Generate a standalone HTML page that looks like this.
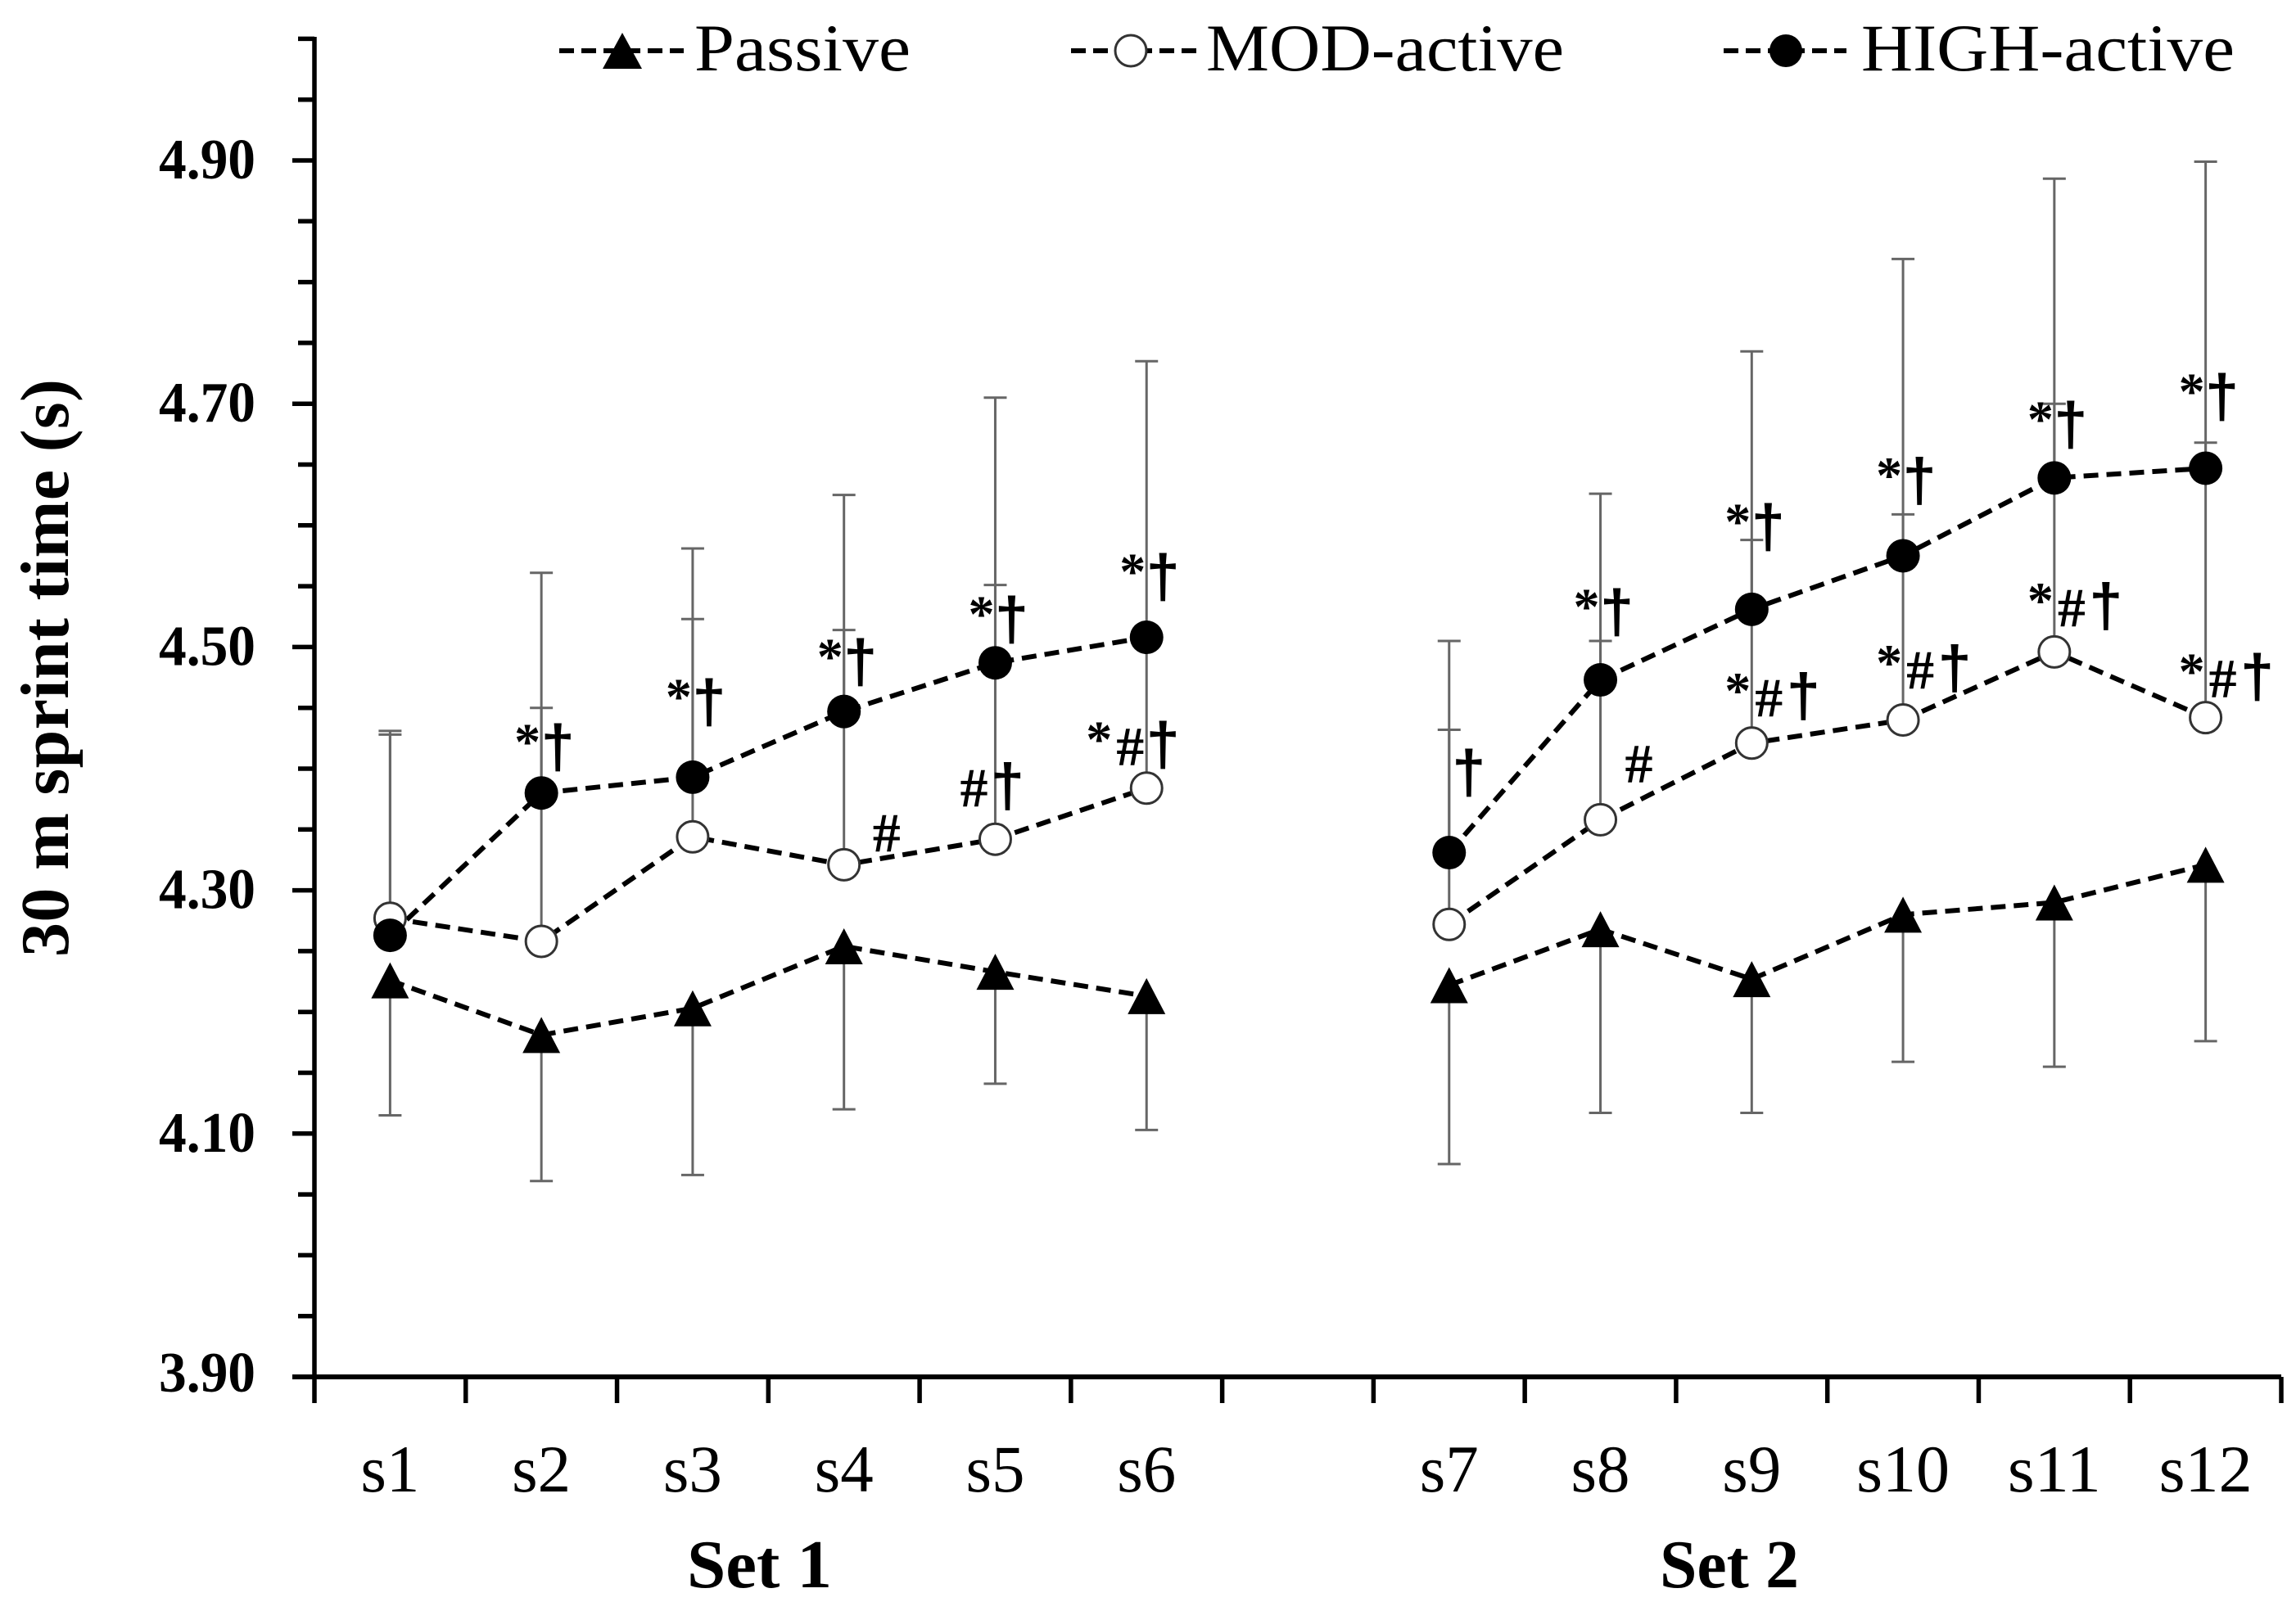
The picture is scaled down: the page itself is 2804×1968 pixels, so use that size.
<!DOCTYPE html>
<html lang="en">
<head>
<meta charset="utf-8">
<title>30 m sprint time</title>
<style>
html,body{margin:0;padding:0;background:#fff;}
svg{display:block;}
text{fill:#000;font-family:"Liberation Serif",serif;}
</style>
</head>
<body>
<svg id="chart" xmlns="http://www.w3.org/2000/svg" width="2804" height="1968" viewBox="0 0 2804 1968">
  <rect x="0" y="0" width="2804" height="1968" fill="#fff"/>
  <text transform="translate(83,816) rotate(-90)" text-anchor="middle" font-size="84" font-weight="bold" textLength="706" lengthAdjust="spacing">30 m sprint time (s)</text>
  <g id="err"></g>
  <g id="lines"></g>
  <g id="marks"></g>
  <g id="ann"></g>
  <g id="axes"></g>
  <text x="839" y="1939" font-size="84" font-weight="bold" textLength="177" lengthAdjust="spacingAndGlyphs">Set 1</text>
  <text x="2027" y="1939" font-size="84" font-weight="bold" textLength="170" lengthAdjust="spacingAndGlyphs">Set 2</text>
  <g>
    <g>
      <line x1="683" y1="62" x2="835" y2="62" stroke="#000" stroke-width="6" stroke-dasharray="18 9"/>
      <polygon points="760,40 784,84 736,84" fill="#000"/>
      <text x="848" y="86" font-size="82" textLength="264" lengthAdjust="spacingAndGlyphs">Passive</text>
    </g>
    <g>
      <line x1="1308" y1="62" x2="1461" y2="62" stroke="#000" stroke-width="6" stroke-dasharray="18 9"/>
      <circle cx="1381" cy="62" r="19" fill="#fff" stroke="#333" stroke-width="3"/>
      <text x="1473" y="86" font-size="82" textLength="437" lengthAdjust="spacingAndGlyphs">MOD-active</text>
    </g>
    <g>
      <line x1="2105" y1="62" x2="2255" y2="62" stroke="#000" stroke-width="6" stroke-dasharray="18 9"/>
      <circle cx="2181" cy="62" r="20" fill="#000"/>
      <text x="2273" y="86" font-size="82" textLength="456" lengthAdjust="spacingAndGlyphs">HIGH-active</text>
    </g>
  </g>
</svg>
<script>
// Categories ('' is the gap between the two sets)
const categories = ['s1','s2','s3','s4','s5','s6','','s7','s8','s9','s10','s11','s12'];
const yTickLabels = ['3.90','4.10','4.30','4.50','4.70','4.90'];
const yTickValues = [3.9,3.95,4.0,4.05,4.1,4.15,4.2,4.25,4.3,4.35,4.4,4.45,4.5,4.55,4.6,4.65,4.7,4.75,4.8,4.85,4.9,4.95,5.0];

// Series means, seconds (null = gap)
const passiveMeans = [4.226,4.181,4.203,4.254,4.233,4.213,null,4.222,4.268,4.227,4.280,4.290,4.321];
const modMeans     = [4.277,4.258,4.344,4.321,4.342,4.384,null,4.272,4.358,4.421,4.440,4.496,4.442];
const highMeans    = [4.263,4.380,4.393,4.447,4.487,4.508,null,4.331,4.473,4.531,4.575,4.639,4.647];

// Error bar ends, seconds
const passiveLower = [4.115,4.061,4.066,4.120,4.141,4.103,null,4.075,4.117,4.117,4.159,4.155,4.176];
const modUpper     = [4.431,4.450,4.523,4.514,4.551,4.508,null,4.432,4.505,4.588,4.609,4.700,4.668];
const highUpper    = [4.428,4.561,4.581,4.625,4.705,4.735,null,4.505,4.626,4.743,4.819,4.885,4.899];

// Significance annotations and their baseline level, seconds
const highAnnotations = ['','*†','*†','*†','*†','*†','','†','*†','*†','*†','*†','*†'];
const highAnnotationLevels = [null,4.401,4.438,4.471,4.506,4.541,null,4.380,4.512,4.582,4.620,4.666,4.689];
const modAnnotations = ['','','','#','#†','*#†','','','#','*#†','*#†','*#†','*#†'];
const modAnnotationLevels = [null,null,null,4.332,4.369,4.403,null,null,4.389,4.443,4.466,4.517,4.459];

const NS = 'http://www.w3.org/2000/svg';
const PLOT = {left:384, right:2786, bottom:1682, perSecond:1486, yMin:3.9};
function xScale(i){ return PLOT.left + (PLOT.right-PLOT.left)/categories.length*(i+0.5); }
function xEdge(i){ return PLOT.left + (PLOT.right-PLOT.left)/categories.length*i; }
function yScale(v){ return PLOT.bottom - (v-PLOT.yMin)*PLOT.perSecond; }
function mk(tag,attrs,parent){
  const el=document.createElementNS(NS,tag);
  for(const k in attrs) el.setAttribute(k,attrs[k]);
  parent.appendChild(el);
  return el;
}

const axes=document.getElementById('axes');
const errG=document.getElementById('err');
const linesG=document.getElementById('lines');
const marksG=document.getElementById('marks');
const annG=document.getElementById('ann');

// Axis lines
const yAxisLine=mk('line',{x1:PLOT.left,y1:45,x2:PLOT.left,y2:PLOT.bottom+3,stroke:'#000','stroke-width':5.5},axes);


const xAxisLine=mk('line',{x1:357,y1:PLOT.bottom,x2:PLOT.right,y2:PLOT.bottom,stroke:'#000','stroke-width':6},axes);



// Y ticks
yTickValues.forEach(function(v){
  const major=yTickLabels.indexOf(v.toFixed(2))>=0;
  const t=mk('line',{x1:major?357:364,y1:yScale(v),x2:PLOT.left,y2:yScale(v),stroke:'#000','stroke-width':5.5},axes);
  
  
});
yTickLabels.forEach(function(label){
  const v=parseFloat(label);
  const t=mk('text',{x:194,y:yScale(v)+(v===3.9?18:22),'font-size':70,'font-weight':'bold',textLength:118,lengthAdjust:'spacingAndGlyphs'},axes);
  
  
  t.textContent=label;
});

// X ticks and labels
for(let i=0;i<=categories.length;i++){
  const t=mk('line',{x1:xEdge(i),y1:PLOT.bottom,x2:xEdge(i),y2:PLOT.bottom+32,stroke:'#000','stroke-width':5.5},axes);
  
  
}
categories.forEach(function(c,i){
  if(!c) return;
  const t=mk('text',{x:xScale(i),y:1822,'text-anchor':'middle','font-size':82,textLength:c.length>2?114:72,lengthAdjust:'spacingAndGlyphs'},axes);
  
  
  t.textContent=c;
});

// Error bars
function drawErrors(ends,means,name){
  ends.forEach(function(e,i){
    if(e===null) return;
    const x=xScale(i);
    const stem=mk('line',{x1:x,y1:yScale(means[i]),x2:x,y2:yScale(e),stroke:'#666','stroke-width':3},errG);
    
    
    const cap=mk('line',{x1:x-14,y1:yScale(e),x2:x+14,y2:yScale(e),stroke:'#666','stroke-width':3},errG);
    
    
  });
}
drawErrors(passiveLower,passiveMeans,'passive');
drawErrors(modUpper,modMeans,'mod-active');
drawErrors(highUpper,highMeans,'high-active');

// Dashed series lines (one path per set)
function drawLine(means,name){
  let d='',pen=false;
  means.forEach(function(m,i){
    if(m===null){pen=false;return;}
    d+=(pen?'L':'M')+xScale(i).toFixed(1)+' '+yScale(m).toFixed(1);
    pen=true;
  });
  const p=mk('path',{d:d,fill:'none',stroke:'#000','stroke-width':6,'stroke-dasharray':'18 10'},linesG);
  
  
}
drawLine(passiveMeans,'passive');
drawLine(modMeans,'mod-active');
drawLine(highMeans,'high-active');

// Markers
modMeans.forEach(function(m,i){
  if(m===null) return;
  const c=mk('circle',{cx:xScale(i),cy:yScale(m),r:19,fill:'#fff',stroke:'#333','stroke-width':3},marksG);
  
  
});
highMeans.forEach(function(m,i){
  if(m===null) return;
  const c=mk('circle',{cx:xScale(i),cy:yScale(m),r:20.5,fill:'#000'},marksG);
  
  
});
passiveMeans.forEach(function(m,i){
  if(m===null) return;
  const x=xScale(i),y=yScale(m);
  const p=mk('polygon',{points:x+','+(y-22)+' '+(x+23)+','+(y+22)+' '+(x-23)+','+(y+22),fill:'#000'},marksG);
  
  
});

// Annotation glyphs
function glyph(ch,x,base){
  let t;
  if(ch==='†'){
    t=mk('text',{x:x+2,y:base,'text-anchor':'middle','font-size':74,'font-weight':'bold',style:'font-family:"Liberation Sans",sans-serif'},annG);
  }else if(ch==='#'){
    t=mk('text',{x:x,y:base,'text-anchor':'middle','font-size':68,'font-weight':'bold'},annG);
  }else{
    t=mk('text',{x:x,y:base-10,'text-anchor':'middle','font-size':64,'font-weight':'bold'},annG);
  }
  
  
  t.textContent=ch;
}
function glyphOffsets(label,i){
  if(label==='*†') return [-17,18];
  if(label==='†') return [22];
  if(label==='#') return [i===3?52:47];
  if(label==='#†') return [-26,13];
  if(i===5) return [-58,-20,18];
  return [-17,21,61];
}
function drawAnnotations(labels,levels){
  labels.forEach(function(label,i){
    if(!label) return;
    const off=glyphOffsets(label,i);
    Array.from(label).forEach(function(ch,k){
      glyph(ch,xScale(i)+off[k],yScale(levels[i]));
    });
  });
}
drawAnnotations(highAnnotations,highAnnotationLevels);
drawAnnotations(modAnnotations,modAnnotationLevels);
</script>
</body>
</html>
